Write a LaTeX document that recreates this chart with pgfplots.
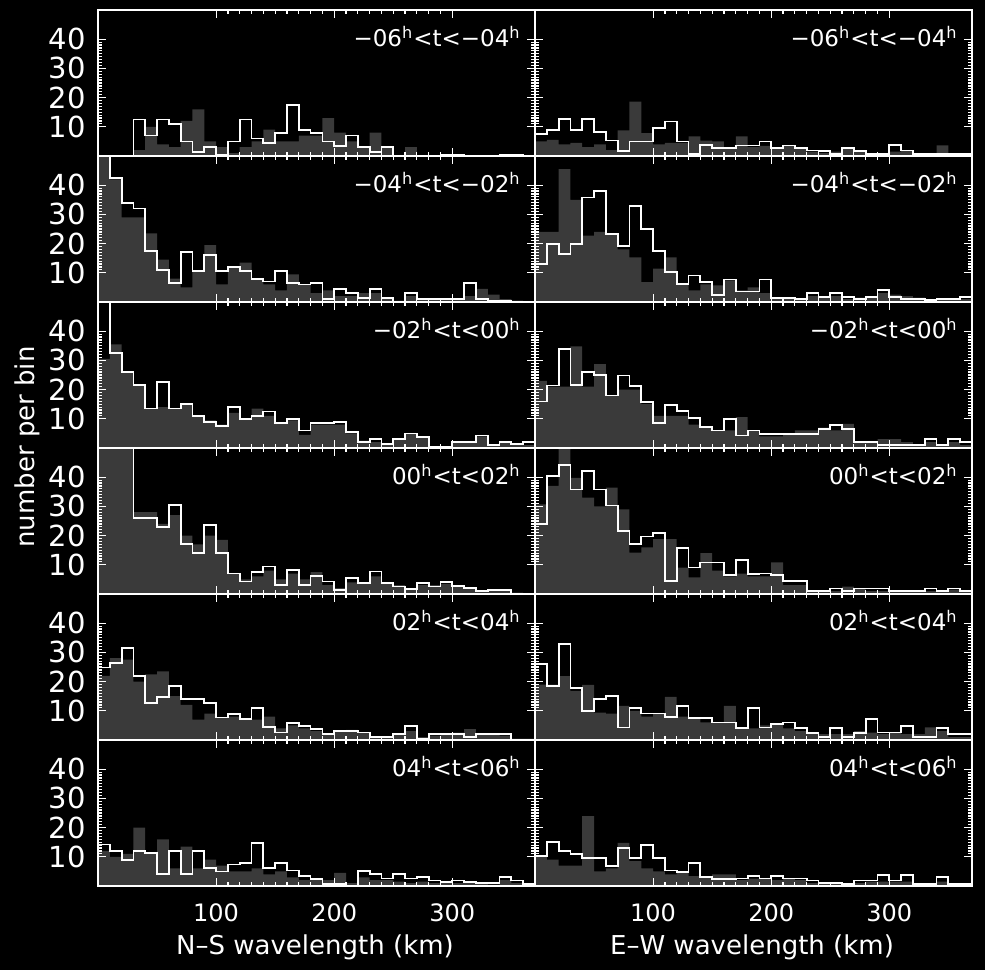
\documentclass[border=0pt]{standalone}
\usepackage{fontspec}
\setmainfont{DejaVu Sans}
\usepackage{pgfplots}
\usepackage{pgfplotstable}
\pgfplotsset{compat=1.18}
\definecolor{histgray}{RGB}{58,58,58}

% N-S wavelength (left column): g = filled grey histogram, w = white outline histogram, rows 1..6
\pgfplotstableread{
x g1 w1 g2 w2 g3 w3 g4 w4 g5 w5 g6 w6
0 0 0 60 55 30.5 55 60 60 22 24.8 12 14.2
10 0 0 42 42.5 35.5 32.5 55 55 28 26.5 10 12
20 0 0 29 34 26 26 52 52 27.5 31.6 11 9
30 2 12.5 29 32 21.5 21.5 28 26 20 22 20 12
40 10 7 23.5 17.5 13.5 13.5 28 26 22.5 12.8 11 11.4
50 4 12.5 14.5 11 14 22.5 24 23 23.5 14.8 16 4
60 3 11 8 6.5 13.5 13.5 27 30.5 15 18.5 6 12
70 12 5 5 17 15 15 20 17 12 14 13.5 4
80 16 1.5 10.5 10.5 11 11 17 14 7 14 6 12
90 5 3 19.5 16 9.5 9 20 23.5 9 12.8 9 6.2
100 3 0.5 6 10.5 8 7.5 18.5 14 7.7 7.7 7 5
110 1 5 12 12 12 14 7 7 8 8.9 5 7.4
120 3 12.5 13.5 10.5 10 10 5 4.3 7 7.2 5 8
130 5 6 8 8 13.5 11 6 7.4 7 10.9 6 14.8
140 9 4.5 6 7 11 12.5 8 9.4 8 4.5 4 6.2
150 5 8 4 10.5 8.5 8.5 5 3.2 4 2.6 5 8
160 5 17.5 9.5 6.5 9.5 10 7 8.3 5 5.7 3 5.3
170 7 9 6 6 4.5 6 5 3.2 4 4.9 2 3.4
180 7 8 3 6.5 8 8.5 7.5 6.2 3 3.8 2 2.3
190 13 5 4 1 8 8.5 3 4.3 2 2 2 0.6
200 8 3.5 2 4.5 8 9 2 1.5 3 3.2 4.5 0.6
210 5 7 2 3 5 5.5 4 5.5 3.5 3.2 1 0
220 3 3 3 1.5 2.5 2 4 3.8 2.5 2.6 3 5.1
230 8 1.5 3 4.5 2 3 6 7.7 1 0.9 2 4
240 3 3 1 1.5 1.5 1.5 4 3.8 1 0.9 2 2.6
250 0 0 0.5 0 3 3.2 3 2.6 2 2 1.5 4
260 3 0 2 3 5 5 2 1.7 3 4.9 1 2.6
270 0 0 1 1 4 3.8 3 3.8 1 0.3 1.5 3
280 0 0 1 1 0.5 0.5 3 2.6 1.5 2 1 1.9
290 0.5 0.5 1 1 0.5 0.5 3.5 4 2 2 1 1.5
300 0.5 0.5 1 1 2 2 3 2.8 2.5 2 1 1.9
310 0 0 2 6.5 2 2 2 2 3.7 1 1 1.5
320 0 0 4.5 1 4 4.3 1 0.9 2 2 1 1.1
330 0 0 2.5 0.5 1 1 1 1.5 2 2 0.5 1.1
340 0.5 0.5 1 0.5 2 2 1 1.5 1.5 2 2 3
350 0.5 0.5 0.5 0 1 1.5 0.5 0 0.5 0 1 1.9
360 0 0 0 0 1 2 0 0 0.5 0 0.5 0.8
370 0 0 0 0 1 2 0 0 0.5 0 0.5 0.8
}\tabL

% E-W wavelength (right column)
\pgfplotstableread{
x g1 w1 g2 w2 g3 w3 g4 w4 g5 w5 g6 w6
0 5 7.6 24 13 23 15.9 30.7 24 19 25.9 10 10.2
10 5.5 8.8 24 19.9 21 21.4 37 40.3 19 18.5 9 15.1
20 4 12.7 45.5 16.5 21 33.9 55 44.3 21.9 33 7 11.9
30 4.5 8.8 35 19.9 34.8 21.6 39.8 35.8 16.8 17.7 7 11
40 3 12.7 22.7 35.8 21 25.9 33 42 18.9 9.8 23.9 9.7
50 4 8.2 24 38.1 28.7 25 30 35.8 9.4 14 5 9.7
60 2 5.3 23 23.3 18 18 36.4 30.3 9 15.1 6 6.8
70 8.8 1.6 18 19.3 20 24.8 29 21.6 11.7 4.3 14.8 13.1
80 18.6 5 15.3 33 20 21.1 14.2 17 10 10.9 8.5 9.7
90 7.8 5 6.8 25 15 15.7 16 19.7 8 9.1 6 14
100 4 9.5 11.4 17.6 11 8.6 18.8 20.8 9 9.1 5 9.7
110 4.5 11.8 15.3 10.2 11 14.8 18.8 4.5 14.8 8 4 5.3
120 4.5 5 6 6.3 11 12.8 9 15.7 8 11.7 5 4.9
130 6.7 0.8 4 9.1 8 10.2 5.7 9.1 7.5 7.5 3.4 8
140 5.3 3.9 6 6.8 7 7.2 14 10.8 6 7.5 3 3.1
150 5 2.7 5.7 2.5 6 6 8 10.8 6 6 4 2.3
160 3 2.7 7.4 7.7 6 9.8 6 6.5 11.7 6 4 2.3
170 6.7 3.6 4 3.6 10.6 4.3 7 11.6 4 4.1 2 2.6
180 3 3.6 5 3.6 6 6 6 6.8 4 10.9 2.5 3.4
190 3.5 5 3 7.7 4 4.9 6 7 5 4.3 2.5 2.6
200 2.5 2.7 1.5 1.4 4 4.9 10.8 6.5 5.5 5.5 2 3.4
210 3.5 3.6 1 1.4 5 4.9 3 4.5 4 6 2.5 2.6
220 2.5 2.7 1 1.1 6 4.9 3 4.5 3 4.1 2 2.6
230 1.5 1.9 2 3.2 6 4.9 1 1.1 2 2.3 1 1.9
240 1 1.6 1.5 1.7 7 6.6 1 1.1 2 0.9 1 1.1
250 1.5 0.8 2 3.2 6 8 1 1.9 2 4.1 1 1.1
260 3 2.7 1 1.7 8.3 6.6 2.5 1.1 2 0.9 0.5 0.8
270 2 1.6 1.5 1.1 2 2 2 1.9 3 2.3 1 1.9
280 0.5 0.8 2 1.7 2 2 1 1.9 2.5 7.2 1.5 1.9
290 0.5 0.8 3 4 3 1.1 1 1.9 2 2.6 1.5 3.8
300 1.5 3.9 2.5 1.7 3 1.1 1 1.1 2.5 2.6 1.5 1.9
310 2 1.9 2 1.1 2 1.1 1 1.1 2 4.9 1.5 3.8
320 0.5 0.8 1.5 1.1 1 1.1 1 1.1 2 0.9 0.5 0.8
330 0.5 0.8 1 0.6 2 3 1 1.9 4.3 0.9 0.5 0.8
340 3.6 0.8 1 1.1 1 1.1 1 1.1 3 4.1 1.5 3.1
350 0.5 0.8 1 1.1 2 3 1.5 1.9 1 2 0.5 0.8
360 0.5 0.8 1 1.7 1 2 1 1.1 1 2 0.5 0.8
370 0.5 0.8 1 1.7 1 2 1 1.1 1 2 0.5 0.8
}\tabR

\pgfplotsset{
  panel/.style={
    scale only axis, width=218.5pt, height=73pt, anchor=north west,
    xmin=0, xmax=370, ymin=0, ymax=50,
    xtick={100,200,300}, minor x tick num=9,
    ytick={10,20,30,40}, minor y tick num=9,
    tick align=inside, tick pos=both,
    xticklabel pos=lower, yticklabel pos=left,
    major tick length=4pt, minor tick length=1.8pt,
    axis line style={white, line width=1.2pt},
    tick style={white, line width=0.6pt},
    axis background/.style={fill=black},
    axis on top,
    xticklabels={}, yticklabels={},
    /pgf/number format/assume math mode=true,
    xticklabel style={font=\fontsize{12}{14}\selectfont, text=white, yshift=-5.5pt},
    yticklabel style={font=\fontsize{14.5}{16}\selectfont, text=white, xshift=-2.7pt},
  },
  bottomrow/.style={xticklabels={100,200,300}},
  leftcol/.style={yticklabels={10,20,30,40}},
}

\newcommand{\panel}[6]{%
\begin{axis}[panel, at={(#1,#2)}, #5]
\addplot[fill=histgray, draw=none, const plot mark left] table[x=x, y=g#4] {#3} \closedcycle;
\addplot[white, line width=0.9pt, const plot mark left] table[x=x, y=w#4] {#3};
\node[anchor=north east, inner sep=0pt, text=white, font=\fontsize{11.5}{13}\selectfont]
  at (rel axis cs:1,1) [xshift=-7pt, yshift=-7.8pt] {#6};
\end{axis}}

\begin{document}
\begin{tikzpicture}
\fill[black] (0pt,0pt) rectangle (492.5pt,-485pt);
% left column
\panel{49pt}{-5pt}{\tabL}{1}{leftcol}{−06\textsuperscript{h}<t<−04\textsuperscript{h}}
\panel{49pt}{-78pt}{\tabL}{2}{leftcol}{−04\textsuperscript{h}<t<−02\textsuperscript{h}}
\panel{49pt}{-151pt}{\tabL}{3}{leftcol}{−02\textsuperscript{h}<t<00\textsuperscript{h}}
\panel{49pt}{-224pt}{\tabL}{4}{leftcol}{00\textsuperscript{h}<t<02\textsuperscript{h}}
\panel{49pt}{-297pt}{\tabL}{5}{leftcol}{02\textsuperscript{h}<t<04\textsuperscript{h}}
\panel{49pt}{-370pt}{\tabL}{6}{leftcol,bottomrow}{04\textsuperscript{h}<t<06\textsuperscript{h}}
% right column
\panel{267.5pt}{-5pt}{\tabR}{1}{}{−06\textsuperscript{h}<t<−04\textsuperscript{h}}
\panel{267.5pt}{-78pt}{\tabR}{2}{}{−04\textsuperscript{h}<t<−02\textsuperscript{h}}
\panel{267.5pt}{-151pt}{\tabR}{3}{}{−02\textsuperscript{h}<t<00\textsuperscript{h}}
\panel{267.5pt}{-224pt}{\tabR}{4}{}{00\textsuperscript{h}<t<02\textsuperscript{h}}
\panel{267.5pt}{-297pt}{\tabR}{5}{}{02\textsuperscript{h}<t<04\textsuperscript{h}}
\panel{267.5pt}{-370pt}{\tabR}{6}{bottomrow}{04\textsuperscript{h}<t<06\textsuperscript{h}}
% labels
\node[rotate=90, text=white, font=\fontsize{13}{15}\selectfont] at (13.5pt,-223.5pt) {number per bin};
\node[text=white, font=\fontsize{13}{15}\selectfont] at (157.5pt,-473.5pt) {N–S wavelength (km)};
\node[text=white, font=\fontsize{13}{15}\selectfont] at (376pt,-473.5pt) {E–W wavelength (km)};
\end{tikzpicture}
\end{document}
